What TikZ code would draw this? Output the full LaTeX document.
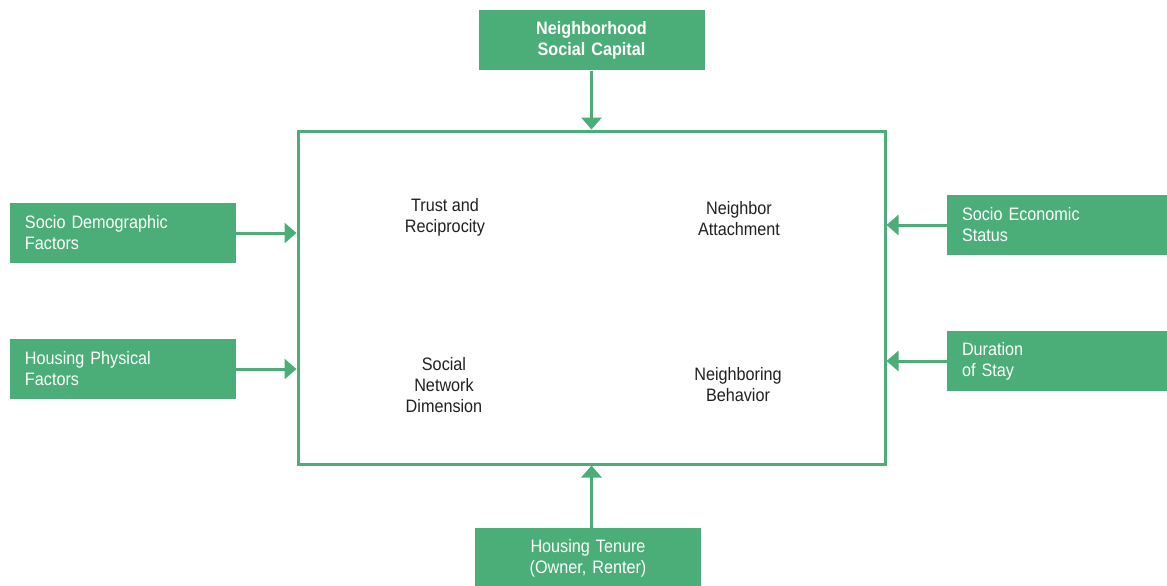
\documentclass[tikz,border=0pt]{standalone}
\usepackage{fontspec}
\setmainfont{Liberation Sans}[FakeStretch=0.9]
\usetikzlibrary{positioning, arrows.meta}
\definecolor{capgreen}{HTML}{4BAE78}
\definecolor{inktext}{HTML}{231F20}
\tikzset {
    x=0.5pt, y=-0.5pt,
    >={Triangle[length=6pt, width=10pt]},
    node distance=29.5pt,
    factor/.style={fill=capgreen, text=white, font=\fontsize{9}{10.5}\selectfont,
        minimum height=30pt, text width=98pt, inner xsep=7.5pt, inner ysep=0pt, align=left},
    capital/.style={factor, align=center, font=\fontsize{9}{10.5}\selectfont\bfseries},
    dimension/.style={text=inktext, font=\fontsize{9}{10.5}\selectfont, align=center},
    link/.style={->, draw=capgreen, line width=1.5pt}
}

\begin{document}
\begin{tikzpicture}
    \useasboundingbox (0,0) rectangle (1167,585);

    \node[draw=capgreen, line width=1.5pt, minimum width=293.5pt, minimum height=166.5pt,
          inner sep=0pt] (frame) at (591.5,297.5) {};

    \node[dimension] (trust) at (445,217) {Trust and\\Reciprocity};
    \node[dimension] (attach) at (739,219) {Neighbor\\Attachment};
    \node[dimension] (network) at (444,385) {Social\\Network\\Dimension};
    \node[dimension] (behavior) at (738,385) {Neighboring\\Behavior};

    \node[capital, above=of frame] (capital) {Neighborhood\\Social Capital};
    \node[factor, below=31pt of frame, xshift=-1.75pt, align=center] (tenure) {Housing Tenure\\(Owner, Renter)};
    \node[factor] (demo) at (123,233) {Socio Demographic\\Factors};
    \node[factor] (physical) at (123,369) {Housing Physical\\Factors};
    \node[factor] (economic) at (1060,225) {Socio Economic\\Status};
    \node[factor] (stay) at (1060,361) {Duration\\of Stay};

    \draw[link] (capital) -- (frame.north);
    \draw[link] (frame.south |- tenure.north) -- (frame.south);
    \draw[link] (demo.east) -- (demo.east -| frame.west);
    \draw[link] (physical.east) -- (physical.east -| frame.west);
    \draw[link] (economic.west) -- (economic.west -| frame.east);
    \draw[link] (stay.west) -- (stay.west -| frame.east);
\end{tikzpicture}
\end{document}
